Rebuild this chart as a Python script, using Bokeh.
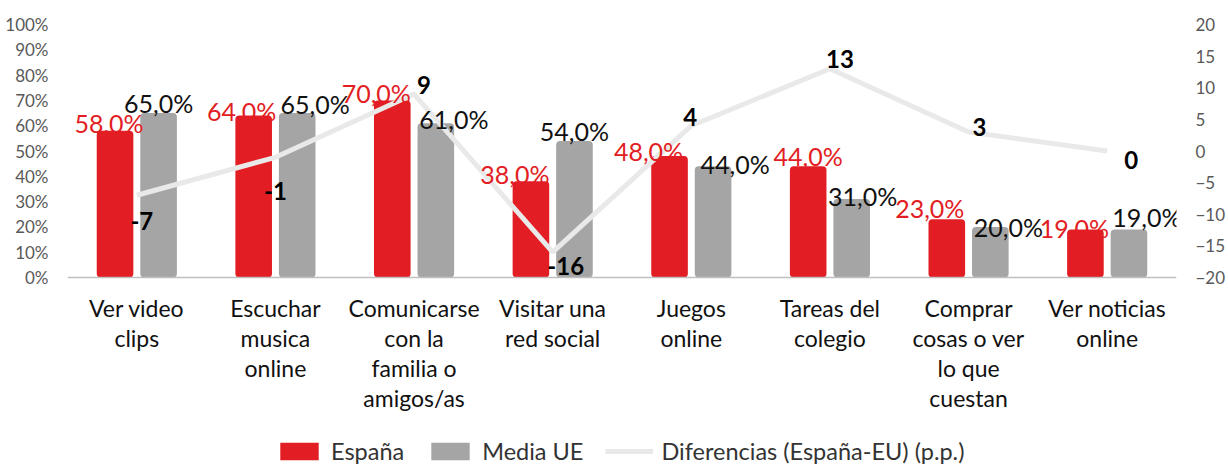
from bokeh.plotting import figure
from bokeh.models import (ColumnDataSource, FactorRange, Range1d, LinearAxis, FixedTicker,
                          Legend, LegendItem)
from bokeh.transform import dodge
from bokeh.core.properties import value
from bokeh.embed import file_html
from bokeh.resources import INLINE

# ---------------- data ----------------
categories = ["Ver video\nclips", "Escuchar\nmusica\nonline", "Comunicarse\ncon la\nfamilia o\namigos/as",
              "Visitar una\nred social", "Juegos\nonline", "Tareas del\ncolegio",
              "Comprar\ncosas o ver\nlo que\ncuestan", "Ver noticias\nonline"]
espana = [58, 64, 70, 38, 48, 44, 23, 19]
media_ue = [65, 65, 61, 54, 44, 31, 20, 19]
diferencias = [-7, -1, 9, -16, 4, 13, 3, 0]
left_ticks = list(range(0, 101, 10))
right_ticks = list(range(-20, 21, 5))

# ---------------- label nudges (pixels, styling only) ----------------
esp_dx = [-6, -12, -16, -16, -21, 0, -17, -11]
esp_gap = [8, 5, 7, 7, 5, 10, 11, 1]
ue_dx = [0, 18, 18, 0, 22, 11, 18, 18]
ue_gap = [10, 9, 4, 10, 2, 3, 0, 12]
dif_dx = [5, 0, 10, 13, -1, 10, 11, 24]
dif_dy = [17, 25, -18, 5, -18, -19, -14, 0]

RED = "#e21d23"
GRAY = "#a5a5a5"
LINE = "#e9e9e9"
FONT = "Lato"

# layout: the frame runs to the bottom of the figure; the value axes use the top 253 px,
# the space below the zero line holds the category labels and the legend
H, TOP = 466, 24
PLOT_PX = 253
below_px = H - TOP - PLOT_PX
left_lo = -100 * below_px / PLOT_PX
right_lo = -20 - 40 * below_px / PLOT_PX

src = ColumnDataSource(dict(
    cat=categories, esp=espana, ue=media_ue, dif=diferencias,
    esp_lbl=[f"{v},0%" for v in espana], ue_lbl=[f"{v},0%" for v in media_ue],
    dif_lbl=[str(v) for v in diferencias],
    esp_dx=esp_dx, esp_dy=[-g for g in esp_gap],
    ue_dx=ue_dx, ue_dy=[-g for g in ue_gap],
    dif_dx=dif_dx, dif_dy=[d + 9 for d in dif_dy],
))

p = figure(x_range=FactorRange(*categories, range_padding=0), y_range=Range1d(left_lo, 100),
           width=1228, height=H, output_backend="svg", toolbar_location=None,
           min_border_left=67, min_border_right=41, min_border_top=TOP, min_border_bottom=0)
p.extra_y_ranges = {"dif": Range1d(right_lo, 20)}
p.outline_line_color = None
p.xgrid.visible = False
p.ygrid.visible = False
p.background_fill_color = "white"
p.border_fill_color = "white"

W = 0.264
OFF = 0.157
r_esp = p.vbar(x=dodge("cat", -OFF, range=p.x_range), top="esp", width=W, source=src,
               fill_color=RED, line_color=None, border_radius=4)
r_ue = p.vbar(x=dodge("cat", OFF, range=p.x_range), top="ue", width=W, source=src,
              fill_color=GRAY, line_color=None, border_radius=4)
r_dif = p.line(x="cat", y="dif", source=src, y_range_name="dif", line_color=LINE, line_width=5)

p.text(x=dodge("cat", -OFF, range=p.x_range), y="esp", text="esp_lbl", source=src,
       x_offset="esp_dx", y_offset="esp_dy", text_align="center", text_baseline="alphabetic",
       text_font=value(FONT), text_font_size="25px", text_color=RED)
p.text(x=dodge("cat", OFF, range=p.x_range), y="ue", text="ue_lbl", source=src,
       x_offset="ue_dx", y_offset="ue_dy", text_align="center", text_baseline="alphabetic",
       text_font=value(FONT), text_font_size="25px", text_color="#111111")
p.text(x="cat", y="dif", text="dif_lbl", source=src, y_range_name="dif",
       x_offset="dif_dx", y_offset="dif_dy", text_align="center", text_baseline="alphabetic",
       text_font=value(FONT), text_font_size="24px", text_font_style="bold", text_color="#000000")

# axes
xa = p.xaxis[0]
xa.fixed_location = 0
xa.axis_line_color = "#bfbfbf"
xa.axis_line_width = 1.5
xa.major_tick_line_color = None
xa.minor_tick_line_color = None
xa.major_label_standoff = 10
xa.major_label_text_font = FONT
xa.major_label_text_font_size = "23px"
xa.major_label_text_color = "#111111"
xa.major_label_text_line_height = 1.08

ya = p.yaxis[0]
ya.ticker = FixedTicker(ticks=left_ticks)
ya.major_label_overrides = {t: f"{t}%" for t in left_ticks}
ya.axis_line_color = None
ya.major_tick_line_color = None
ya.minor_tick_line_color = None
ya.major_label_standoff = 13
ya.major_label_text_font = FONT
ya.major_label_text_font_size = "17px"
ya.major_label_text_color = "#595959"

ra = LinearAxis(y_range_name="dif", ticker=FixedTicker(ticks=right_ticks))
ra.axis_line_color = None
ra.major_tick_line_color = None
ra.minor_tick_line_color = None
ra.major_label_standoff = 13
ra.major_label_text_font = FONT
ra.major_label_text_font_size = "17px"
ra.major_label_text_color = "#595959"
p.add_layout(ra, "right")

legend = Legend(items=[LegendItem(label="España", renderers=[r_esp]),
                       LegendItem(label="Media UE", renderers=[r_ue]),
                       LegendItem(label="Diferencias (España-EU) (p.p.)", renderers=[r_dif])],
                orientation="horizontal", location=(208, 1),
                glyph_width=48, glyph_height=22, label_standoff=8, spacing=22,
                padding=0, margin=0, border_line_color=None, background_fill_alpha=0,
                label_text_font=FONT, label_text_font_size="23.5px", label_text_color="#333333")
p.add_layout(legend, "center")

open("out.html", "w").write(file_html(p, INLINE))
